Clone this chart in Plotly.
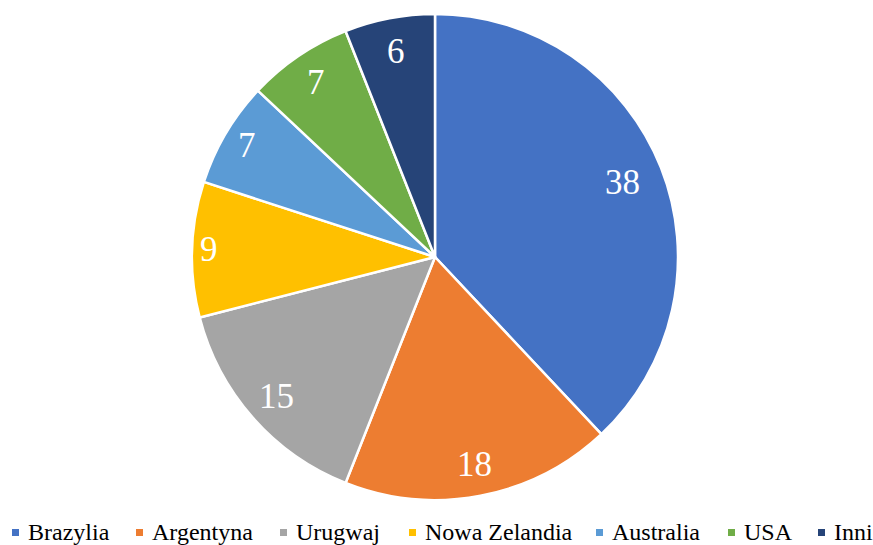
import math
import plotly.graph_objects as go

# share by country
countries = ['Brazylia', 'Argentyna', 'Urugwaj', 'Nowa Zelandia', 'Australia', 'USA', 'Inni']
values = [38, 18, 15, 9, 7, 7, 6]
colors = ['#4472C4', '#ED7D31', '#A5A5A5', '#FFC000', '#5B9BD5', '#70AD47', '#264478']

W, H = 873, 545
cx, cy, r = 435, 257, 243
serif = 'Liberation Serif'
# how far out each value label sits, as a fraction of the radius
label_r = [0.83, 0.87, 0.87, 0.93, 0.90, 0.87, 0.86]

fig = go.Figure()
fig.add_trace(go.Pie(
    labels=countries,
    values=values,
    sort=False,
    direction='clockwise',
    rotation=0,
    marker=dict(colors=colors, line=dict(color='white', width=2.5)),
    textinfo='none',
    showlegend=False,
    domain=dict(x=[(cx - r) / W, (cx + r) / W], y=[1 - (cy + r) / H, 1 - (cy - r) / H]),
    hoverinfo='label+value',
))

# value labels placed towards the outer rim, like Excel's best fit
total = sum(values)
cum = 0
for v, f in zip(values, label_r):
    mid = (cum + v / 2) / total * 2 * math.pi
    cum += v
    d = f * r
    fig.add_annotation(
        x=(cx + d * math.sin(mid)) / W, y=1 - (cy - d * math.cos(mid)) / H,
        xref='paper', yref='paper', xanchor='center', yanchor='middle', showarrow=False,
        text=str(v), font=dict(family=serif, size=35, color='white'),
    )

# legend row along the bottom
legend_x = [12, 136, 280, 409, 596, 728, 818]
for name, col, lx in zip(countries, colors, legend_x):
    fig.add_shape(type='rect', xref='paper', yref='paper',
                  x0=lx / W, x1=(lx + 7) / W, y0=1 - 536 / H, y1=1 - 529 / H,
                  fillcolor=col, line=dict(width=0))
    fig.add_annotation(x=(lx + 14) / W, y=1 - 532 / H, xref='paper', yref='paper',
                       xanchor='left', yanchor='middle', showarrow=False,
                       text=name, font=dict(family=serif, size=24, color='black'))

fig.update_layout(
    width=W, height=H,
    margin=dict(l=0, r=0, t=0, b=0),
    paper_bgcolor='white',
    showlegend=False,
)

fig.write_html("out.html", config={'displayModeBar': False},
               post_script="document.body.style.margin='0';")
